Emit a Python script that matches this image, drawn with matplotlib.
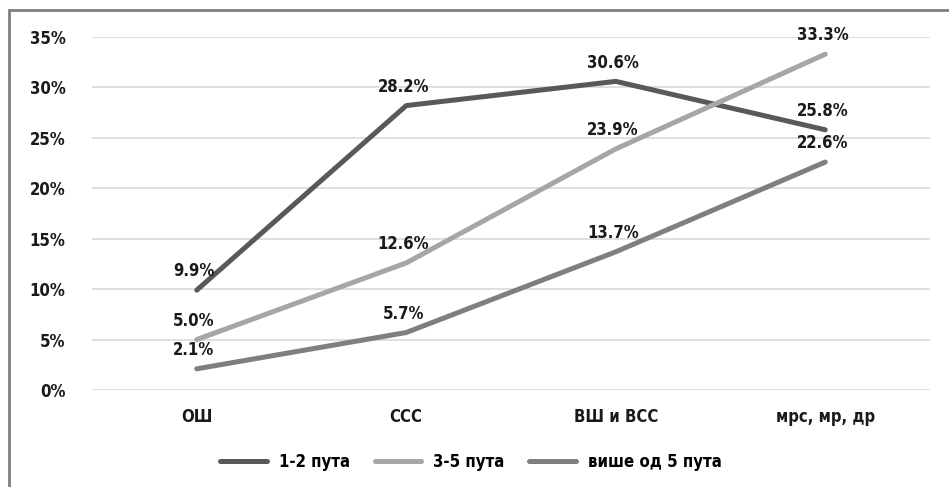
import matplotlib.pyplot as plt
from matplotlib.patches import Rectangle
from matplotlib.ticker import PercentFormatter

categories = ["ОШ", "ССС", "ВШ и ВСС", "мрс, мр, др"]
series_names = ["1-2 пута", "3-5 пута", "више од 5 пута"]
once_twice = [9.9, 28.2, 30.6, 25.8]
three_five = [5.0, 12.6, 23.9, 33.3]
over_five = [2.1, 5.7, 13.7, 22.6]
colors = ["#595959", "#a6a6a6", "#7f7f7f"]

plt.rcParams["font.family"] = ["DejaVu Sans"]
plt.rcParams["font.stretch"] = "condensed"
plt.rcParams["font.weight"] = "bold"

fig = plt.figure(figsize=(9.49, 4.87), dpi=100)
ax = fig.add_axes([92 / 949, 1 - 390 / 487, 838 / 949, 353 / 487])

x = range(len(categories))
for name, vals, c in zip(series_names, [once_twice, three_five, over_five], colors):
    ax.plot(x, vals, color=c, lw=3.6, solid_capstyle="round", label=name)
    for xi, v in zip(x, vals):
        ax.annotate(f"{v:.1f}%", (xi, v), xytext=(-2, 7), textcoords="offset points",
                    ha="center", va="bottom", fontsize=12, fontweight="bold",
                    fontstretch="condensed", color="#1a1a1a")

ax.set_xlim(-0.5, len(categories) - 0.5)
ax.set_ylim(0, 35)
ax.set_yticks(range(0, 36, 5))
ax.yaxis.set_major_formatter(PercentFormatter(decimals=0))
ax.set_xticks(list(x))
ax.set_xticklabels(categories)
ax.tick_params(length=0, labelsize=12, colors="#1a1a1a")
ax.tick_params(axis="y", pad=19)
ax.tick_params(axis="x", pad=13)
for lab in ax.get_xticklabels() + ax.get_yticklabels():
    lab.set_fontweight("bold")
    lab.set_fontstretch("condensed")
ax.grid(axis="y", color="#d9d9d9", lw=1.2)
ax.set_axisbelow(True)
for s in ax.spines.values():
    s.set_visible(False)

leg = fig.legend(loc="center", bbox_to_anchor=(471 / 949, 1 - 462 / 487), ncol=3,
                 frameon=False, fontsize=12, handlelength=2.8, columnspacing=1.5,
                 handletextpad=0.7)
for t in leg.get_texts():
    t.set_fontweight("bold")
    t.set_fontstretch("condensed")

fig.patches.append(Rectangle((9 / 949, -0.1), 1.2, 1 - 10 / 487 + 0.1,
                             transform=fig.transFigure, fill=False,
                             edgecolor="#7f7f7f", lw=2, clip_on=False))

fig.savefig("out.png", dpi=100)
